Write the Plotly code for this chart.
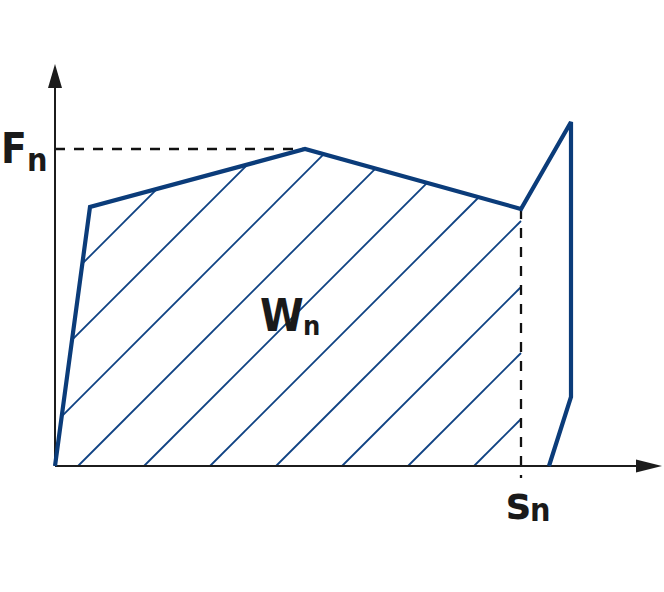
import plotly.graph_objects as go

# ---- data (displacement s, force F) ----
curve_s = [0, 35, 250, 466, 516, 516, 494]
curve_F = [0, 259, 317, 257, 344, 69, 0]
s_n = 466          # displacement at point n
F_n = 317          # max force
F_peak_s = 250     # displacement at max force
n_index = 3        # index of point n in the curve
axis_x_end = 607
axis_y_end = 402
hatch_step = 66
hatch_first = 23

LINE = "#0b3c7a"
HATCH = "#0f4283"
AX = "#1c1c1c"

poly = list(zip(curve_s[:n_index + 1], curve_F[:n_index + 1])) + [(s_n, 0)]


def clip_line(c, pts):
    ts = []
    n = len(pts)
    for i in range(n):
        (x1, y1), (x2, y2) = pts[i], pts[(i + 1) % n]
        den = (x2 - x1) - (y2 - y1)
        num = c - (x1 - y1)
        if abs(den) < 1e-12:
            continue
        u = num / den
        if -1e-9 <= u <= 1 + 1e-9:
            ts.append(y1 + u * (y2 - y1))
    if len(ts) < 2:
        return None
    t0, t1 = min(ts), max(ts)
    if t1 - t0 < 1e-6:
        return None
    return (c + t0, t0), (c + t1, t1)


hx, hy = [], []
k = -10
while True:
    cc = hatch_first + k * hatch_step
    if cc > s_n:
        break
    seg = clip_line(cc, poly)
    if seg:
        (a, b), (d, e) = seg
        hx += [a, d, None]
        hy += [b, e, None]
    k += 1

fig = go.Figure()
fig.add_trace(go.Scatter(x=hx, y=hy, mode="lines",
                         line=dict(color=HATCH, width=1.8), hoverinfo="skip"))

fig.add_trace(go.Scatter(x=[0, F_peak_s], y=[F_n, F_n], mode="lines",
                         line=dict(color="#111", width=2.3, dash="10px,9px"),
                         hoverinfo="skip"))
fig.add_trace(go.Scatter(x=[s_n, s_n], y=[curve_F[n_index], -12], mode="lines",
                         line=dict(color="#111", width=2.3, dash="10px,9px"),
                         hoverinfo="skip"))

fig.add_trace(go.Scatter(x=[0, axis_x_end - 20], y=[0, 0], mode="lines",
                         line=dict(color=AX, width=2), hoverinfo="skip"))
fig.add_trace(go.Scatter(x=[0, 0], y=[0, axis_y_end - 20], mode="lines",
                         line=dict(color=AX, width=2), hoverinfo="skip"))
fig.add_trace(go.Scatter(x=[axis_x_end, axis_x_end - 26, axis_x_end - 26, axis_x_end],
                         y=[0, 6.5, -6.5, 0], mode="lines", fill="toself",
                         fillcolor=AX, line=dict(color=AX, width=0), hoverinfo="skip"))
fig.add_trace(go.Scatter(x=[0, -7, 7, 0],
                         y=[axis_y_end, axis_y_end - 24, axis_y_end - 24, axis_y_end],
                         mode="lines", fill="toself",
                         fillcolor=AX, line=dict(color=AX, width=0), hoverinfo="skip"))

fig.add_trace(go.Scatter(x=curve_s, y=curve_F, mode="lines",
                         line=dict(color=LINE, width=4.2), hoverinfo="skip"))

FONT = "DejaVu Sans Condensed, DejaVu Sans, sans-serif"


def label(x, y, txt, size):
    fig.add_annotation(x=x, y=y, text="<b>%s</b>" % txt, showarrow=False,
                       xanchor="left", yanchor="bottom", xref="x", yref="y",
                       borderpad=0,
                       font=dict(family=FONT, size=size, color="#1a1a1a"))


label(-55, 292, "F", 42)
label(-29, 286, "n", 32)
label(204, 124, "W", 44)
label(247, 124, "n", 27)
label(450, -65, "s", 46)
label(474, -64, "n", 32)

fig.update_layout(
    width=664, height=592, margin=dict(l=0, r=0, t=0, b=0),
    paper_bgcolor="white", plot_bgcolor="white", showlegend=False,
    xaxis=dict(range=[-55, 609], visible=False, fixedrange=True),
    yaxis=dict(range=[-126, 466], visible=False, fixedrange=True),
)
fig.write_html("out.html", config={"displayModeBar": False},
               post_script="document.body.style.margin='0px';document.body.style.overflow='hidden';")
